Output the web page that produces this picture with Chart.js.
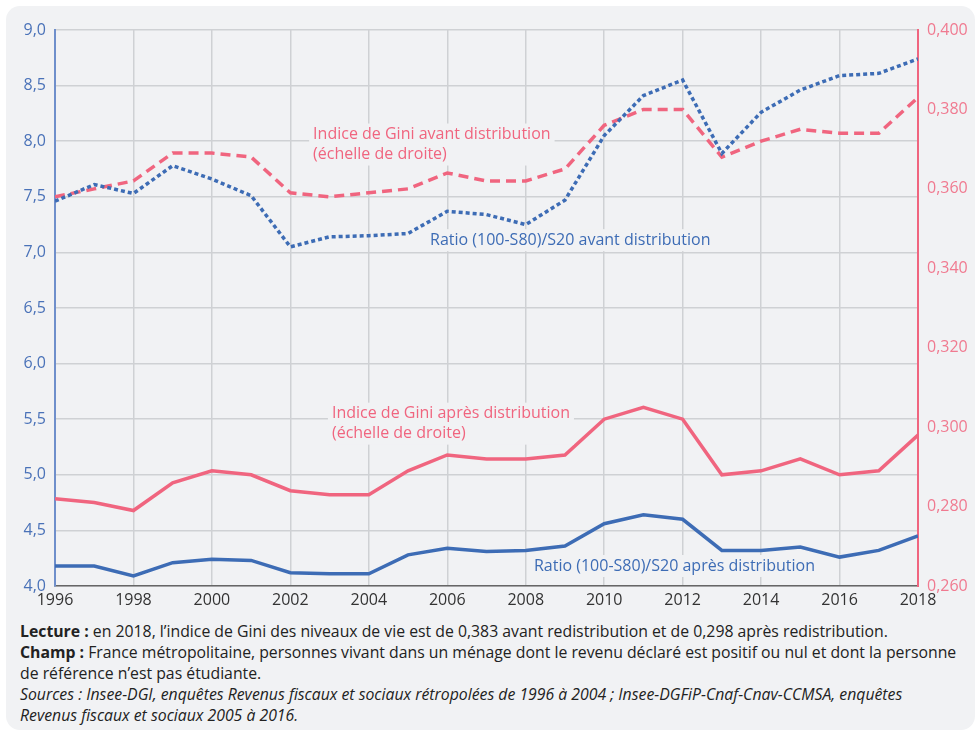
<!DOCTYPE html>
<html>
<head>
<meta charset="utf-8">
<script src="https://cdn.jsdelivr.net/npm/chart.js@4/dist/chart.umd.min.js"></script>
<style>
  body { margin: 0; background: #fff; font-family: 'Open Sans', sans-serif; }
  .panel { position: absolute; left: 6px; top: 6px; width: 969px; height: 724px; background: #f1f2f4; border-radius: 14px; }
  .wrap { position: absolute; left: 0; top: 0; width: 980px; height: 620px; }
  .notes { position: absolute; left: 20px; top: 621px; width: 955px; font-size: 15.8px; line-height: 21px; color: #222; }
  .notes p { margin: 0; }
</style>
</head>
<body>
<div class="panel"></div>
<div class="wrap"><canvas id="chart" width="980" height="620"></canvas></div>
<div class="notes">
  <p><b>Lecture :</b> en 2018, l’indice de Gini des niveaux de vie est de 0,383 avant redistribution et de 0,298 après redistribution.</p>
  <p><b>Champ :</b> France métropolitaine, personnes vivant dans un ménage dont le revenu déclaré est positif ou nul et dont la personne<br>de référence n’est pas étudiante.</p>
  <p><i>Sources : Insee-DGI, enquêtes Revenus fiscaux et sociaux rétropolées de 1996 à 2004 ; Insee-DGFiP-Cnaf-Cnav-CCMSA, enquêtes<br>Revenus fiscaux et sociaux 2005 à 2016.</i></p>
</div>
<script>
const years = [1996, 1997, 1998, 1999, 2000, 2001, 2002, 2003, 2004, 2005, 2006, 2007,
  2008, 2009, 2010, 2011, 2012, 2013, 2014, 2015, 2016, 2017, 2018];

// ratio (100-S80)/S20, left axis
const ratioAvant = [7.46, 7.61, 7.53, 7.78, 7.66, 7.51, 7.05, 7.14, 7.15, 7.17, 7.37, 7.34,
  7.25, 7.47, 8.05, 8.41, 8.55, 7.89, 8.26, 8.46, 8.59, 8.61, 8.74];
const ratioApres = [4.18, 4.18, 4.09, 4.21, 4.24, 4.23, 4.12, 4.11, 4.11, 4.28, 4.34, 4.31,
  4.32, 4.36, 4.56, 4.64, 4.60, 4.32, 4.32, 4.35, 4.26, 4.32, 4.45];

// Gini index, right axis
const giniAvant = [0.358, 0.360, 0.362, 0.369, 0.369, 0.368, 0.359, 0.358, 0.359, 0.360, 0.364, 0.362,
  0.362, 0.365, 0.376, 0.380, 0.380, 0.368, 0.372, 0.375, 0.374, 0.374, 0.383];
const giniApres = [0.282, 0.281, 0.279, 0.286, 0.289, 0.288, 0.284, 0.283, 0.283, 0.289, 0.293, 0.292,
  0.292, 0.293, 0.302, 0.305, 0.302, 0.288, 0.289, 0.292, 0.288, 0.289, 0.298];

const BLUE = '#3d6cb5';
const PINK = '#f0657f';
const PANEL = '#f1f2f4';

const pts = arr => arr.map((v, i) => ({ x: years[i], y: v }));

// series labels, placed in data units (x = year, y = left axis value of first line)
const seriesLabels = [
  { lines: ['Indice de Gini avant distribution', '(échelle de droite)'], x: 2002.58, y: 8.06, color: PINK },
  { lines: ['Ratio (100-S80)/S20 avant distribution'], x: 2005.56, y: 7.11, color: BLUE },
  { lines: ['Indice de Gini après distribution', '(échelle de droite)'], x: 2003.06, y: 5.55, color: PINK },
  { lines: ['Ratio (100-S80)/S20 après distribution'], x: 2008.21, y: 4.18, color: BLUE },
];

const labelPlugin = {
  id: 'seriesLabels',
  afterDatasetsDraw(chart) {
    const { ctx, scales } = chart;
    ctx.save();
    ctx.font = '16px "Open Sans"';
    ctx.textBaseline = 'middle';
    seriesLabels.forEach(l => {
      const x = scales.x.getPixelForValue(l.x);
      const y = scales.y.getPixelForValue(l.y);
      const w = Math.max(...l.lines.map(t => ctx.measureText(t).width));
      ctx.fillStyle = PANEL;
      ctx.fillRect(x - 4, y - 11, w + 8, l.lines.length * 20 + 2);
      ctx.fillStyle = l.color;
      l.lines.forEach((t, i) => ctx.fillText(t, x, y + i * 20));
    });
    ctx.restore();
  }
};

const comma = (v, d) => v.toFixed(d).replace('.', ',');

new Chart(document.getElementById('chart'), {
  type: 'line',
  data: {
    datasets: [
      { data: pts(ratioAvant), yAxisID: 'y', borderColor: BLUE, borderWidth: 3.5, borderDash: [4, 3] },
      { data: pts(giniAvant), yAxisID: 'y2', borderColor: PINK, borderWidth: 3.5, borderDash: [10, 6] },
      { data: pts(giniApres), yAxisID: 'y2', borderColor: PINK, borderWidth: 3.5 },
      { data: pts(ratioApres), yAxisID: 'y', borderColor: BLUE, borderWidth: 3.5 },
    ]
  },
  options: {
    responsive: false,
    animation: false,
    elements: { point: { radius: 0 }, line: { tension: 0 } },
    layout: { padding: { top: 30 } },
    plugins: { legend: { display: false }, tooltip: { enabled: false } },
    scales: {
      x: {
        type: 'linear', min: 1996, max: 2018,
        ticks: { stepSize: 2, color: '#333', font: { family: 'Open Sans', size: 16 }, padding: 5,
          callback: v => String(v) },
        grid: { color: '#cfd1d4', lineWidth: 1.5, drawTicks: false },
        border: { color: '#666', width: 1.5 },
        afterFit: s => { s.height = 34; }
      },
      y: {
        position: 'left', min: 4, max: 9,
        ticks: { stepSize: 0.5, color: '#4a72b8', font: { family: 'Open Sans', size: 16 }, padding: 9,
          callback: v => comma(v, 1) },
        grid: { color: '#cfd1d4', lineWidth: 1.5, drawTicks: false },
        border: { color: '#6f8fcb', width: 2 },
        afterFit: s => { s.width = 55; }
      },
      y2: {
        position: 'right', min: 0.26, max: 0.40,
        ticks: { stepSize: 0.02, color: '#f07a90', font: { family: 'Open Sans', size: 16 }, padding: 9,
          callback: v => comma(v, 3) },
        grid: { display: false, drawTicks: false },
        border: { color: '#f0657f', width: 2 },
        afterFit: s => { s.width = 62; }
      }
    }
  },
  plugins: [labelPlugin]
});
</script>
</body>
</html>
